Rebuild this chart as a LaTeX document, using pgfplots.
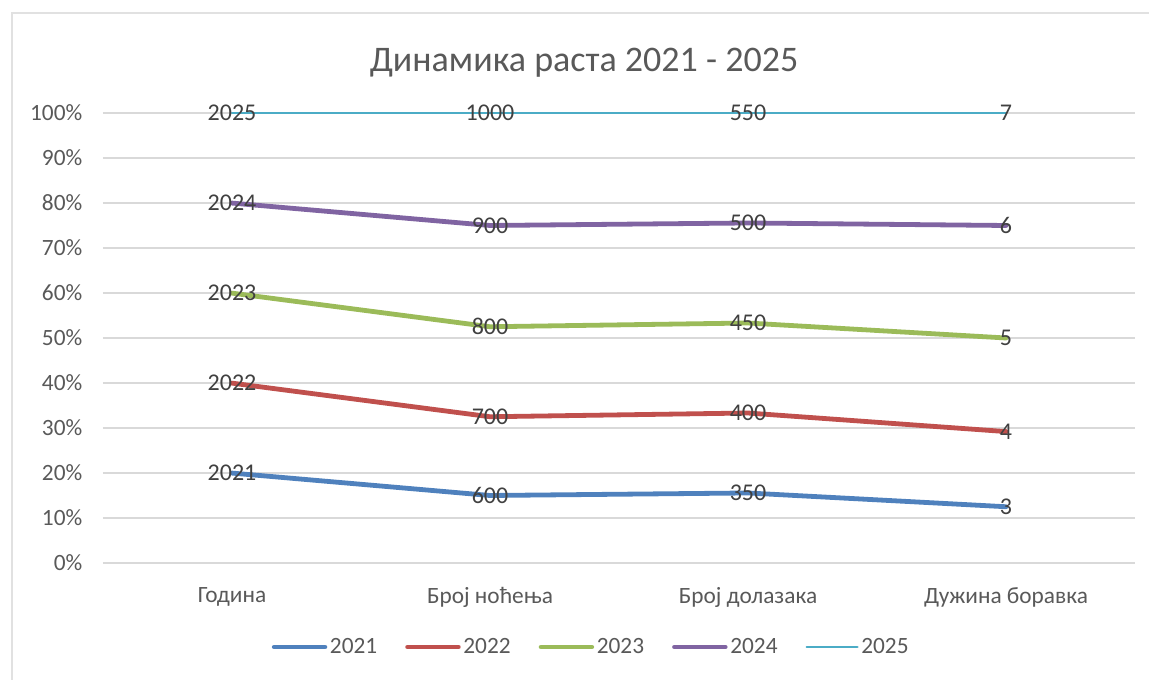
\documentclass[border=0pt]{standalone}
\usepackage{pgfplots}
\pgfplotsset{compat=1.18}
\usepackage{fontspec}
\setmainfont{Carlito}
\definecolor{c1}{HTML}{4F81BD}
\definecolor{c2}{HTML}{C0504D}
\definecolor{c3}{HTML}{9BBB59}
\definecolor{c4}{HTML}{8064A2}
\definecolor{c5}{HTML}{4BACC6}
\definecolor{txt}{HTML}{595959}
\definecolor{lbl}{HTML}{404040}
\definecolor{grd}{HTML}{D9D9D9}
\begin{document}
\begin{tikzpicture}
\useasboundingbox (-77.25pt,-87.75pt) rectangle (784.5pt,422.25pt);
\draw[grd!80!white, line width=1.2pt] (-68.25pt,-87.75pt) -- (-68.25pt,412.5pt) -- (784.5pt,412.5pt);
\begin{axis}[
  scale only axis,
  width=774pt, height=337.5pt,
  xmin=-0.5, xmax=3.5, ymin=0, ymax=100,
  xtick={0,1,2,3},
  xticklabels={Година, Број ноћења, Број долазака, Дужина боравка},
  ytick={0,10,...,100},
  yticklabel={\pgfmathprintnumber{\tick}\%},
  /pgf/number format/assume math mode=true,
  ymajorgrids, grid style={grd, line width=0.8pt},
  axis line style={draw=none},
  tick style={draw=none},
  tick label style={font=\fontsize{17.5}{20}\selectfont, text=txt},
  yticklabel style={xshift=-12pt},
  xticklabel style={yshift=-15pt},
  title={Динамика раста 2021 - 2025},
  title style={font=\fontsize{27}{30}\selectfont, text=txt, at={(0.4661,1.0)}, anchor=south, yshift=17pt},
  legend columns=5,
  legend style={at={(0.4734,-0.1867)}, anchor=center, draw=none, font=\fontsize{17.5}{20}\selectfont, text=txt,
    /tikz/every even column/.append style={column sep=19pt}},
  legend image code/.code={\draw[#1, line cap=round] (0pt,0pt) -- (38pt,0pt);},
  point meta=explicit symbolic,
  nodes near coords,
  every node near coord/.style={anchor=center, font=\fontsize{18}{20}\selectfont, text=lbl},
  clip=false,
]
\addplot[c1, line width=3.6pt, line cap=round] coordinates {(0,19.98) [2021] (1,15.00) [600] (2,15.56) [350] (3,12.5) [3]};
\addplot[c2, line width=3.6pt, line cap=round] coordinates {(0,39.97) [2022] (1,32.50) [700] (2,33.33) [400] (3,29.2) [4]};
\addplot[c3, line width=3.6pt, line cap=round] coordinates {(0,59.97) [2023] (1,52.50) [800] (2,53.33) [450] (3,50.0) [5]};
\addplot[c4, line width=3.6pt, line cap=round] coordinates {(0,79.98) [2024] (1,75.00) [900] (2,75.56) [500] (3,75.0) [6]};
\addplot[c5, line width=1.8pt, line cap=round] coordinates {(0,100) [2025] (1,100) [1000] (2,100) [550] (3,100) [7]};
\legend{2021,2022,2023,2024,2025}
\end{axis}
\end{tikzpicture}
\end{document}
